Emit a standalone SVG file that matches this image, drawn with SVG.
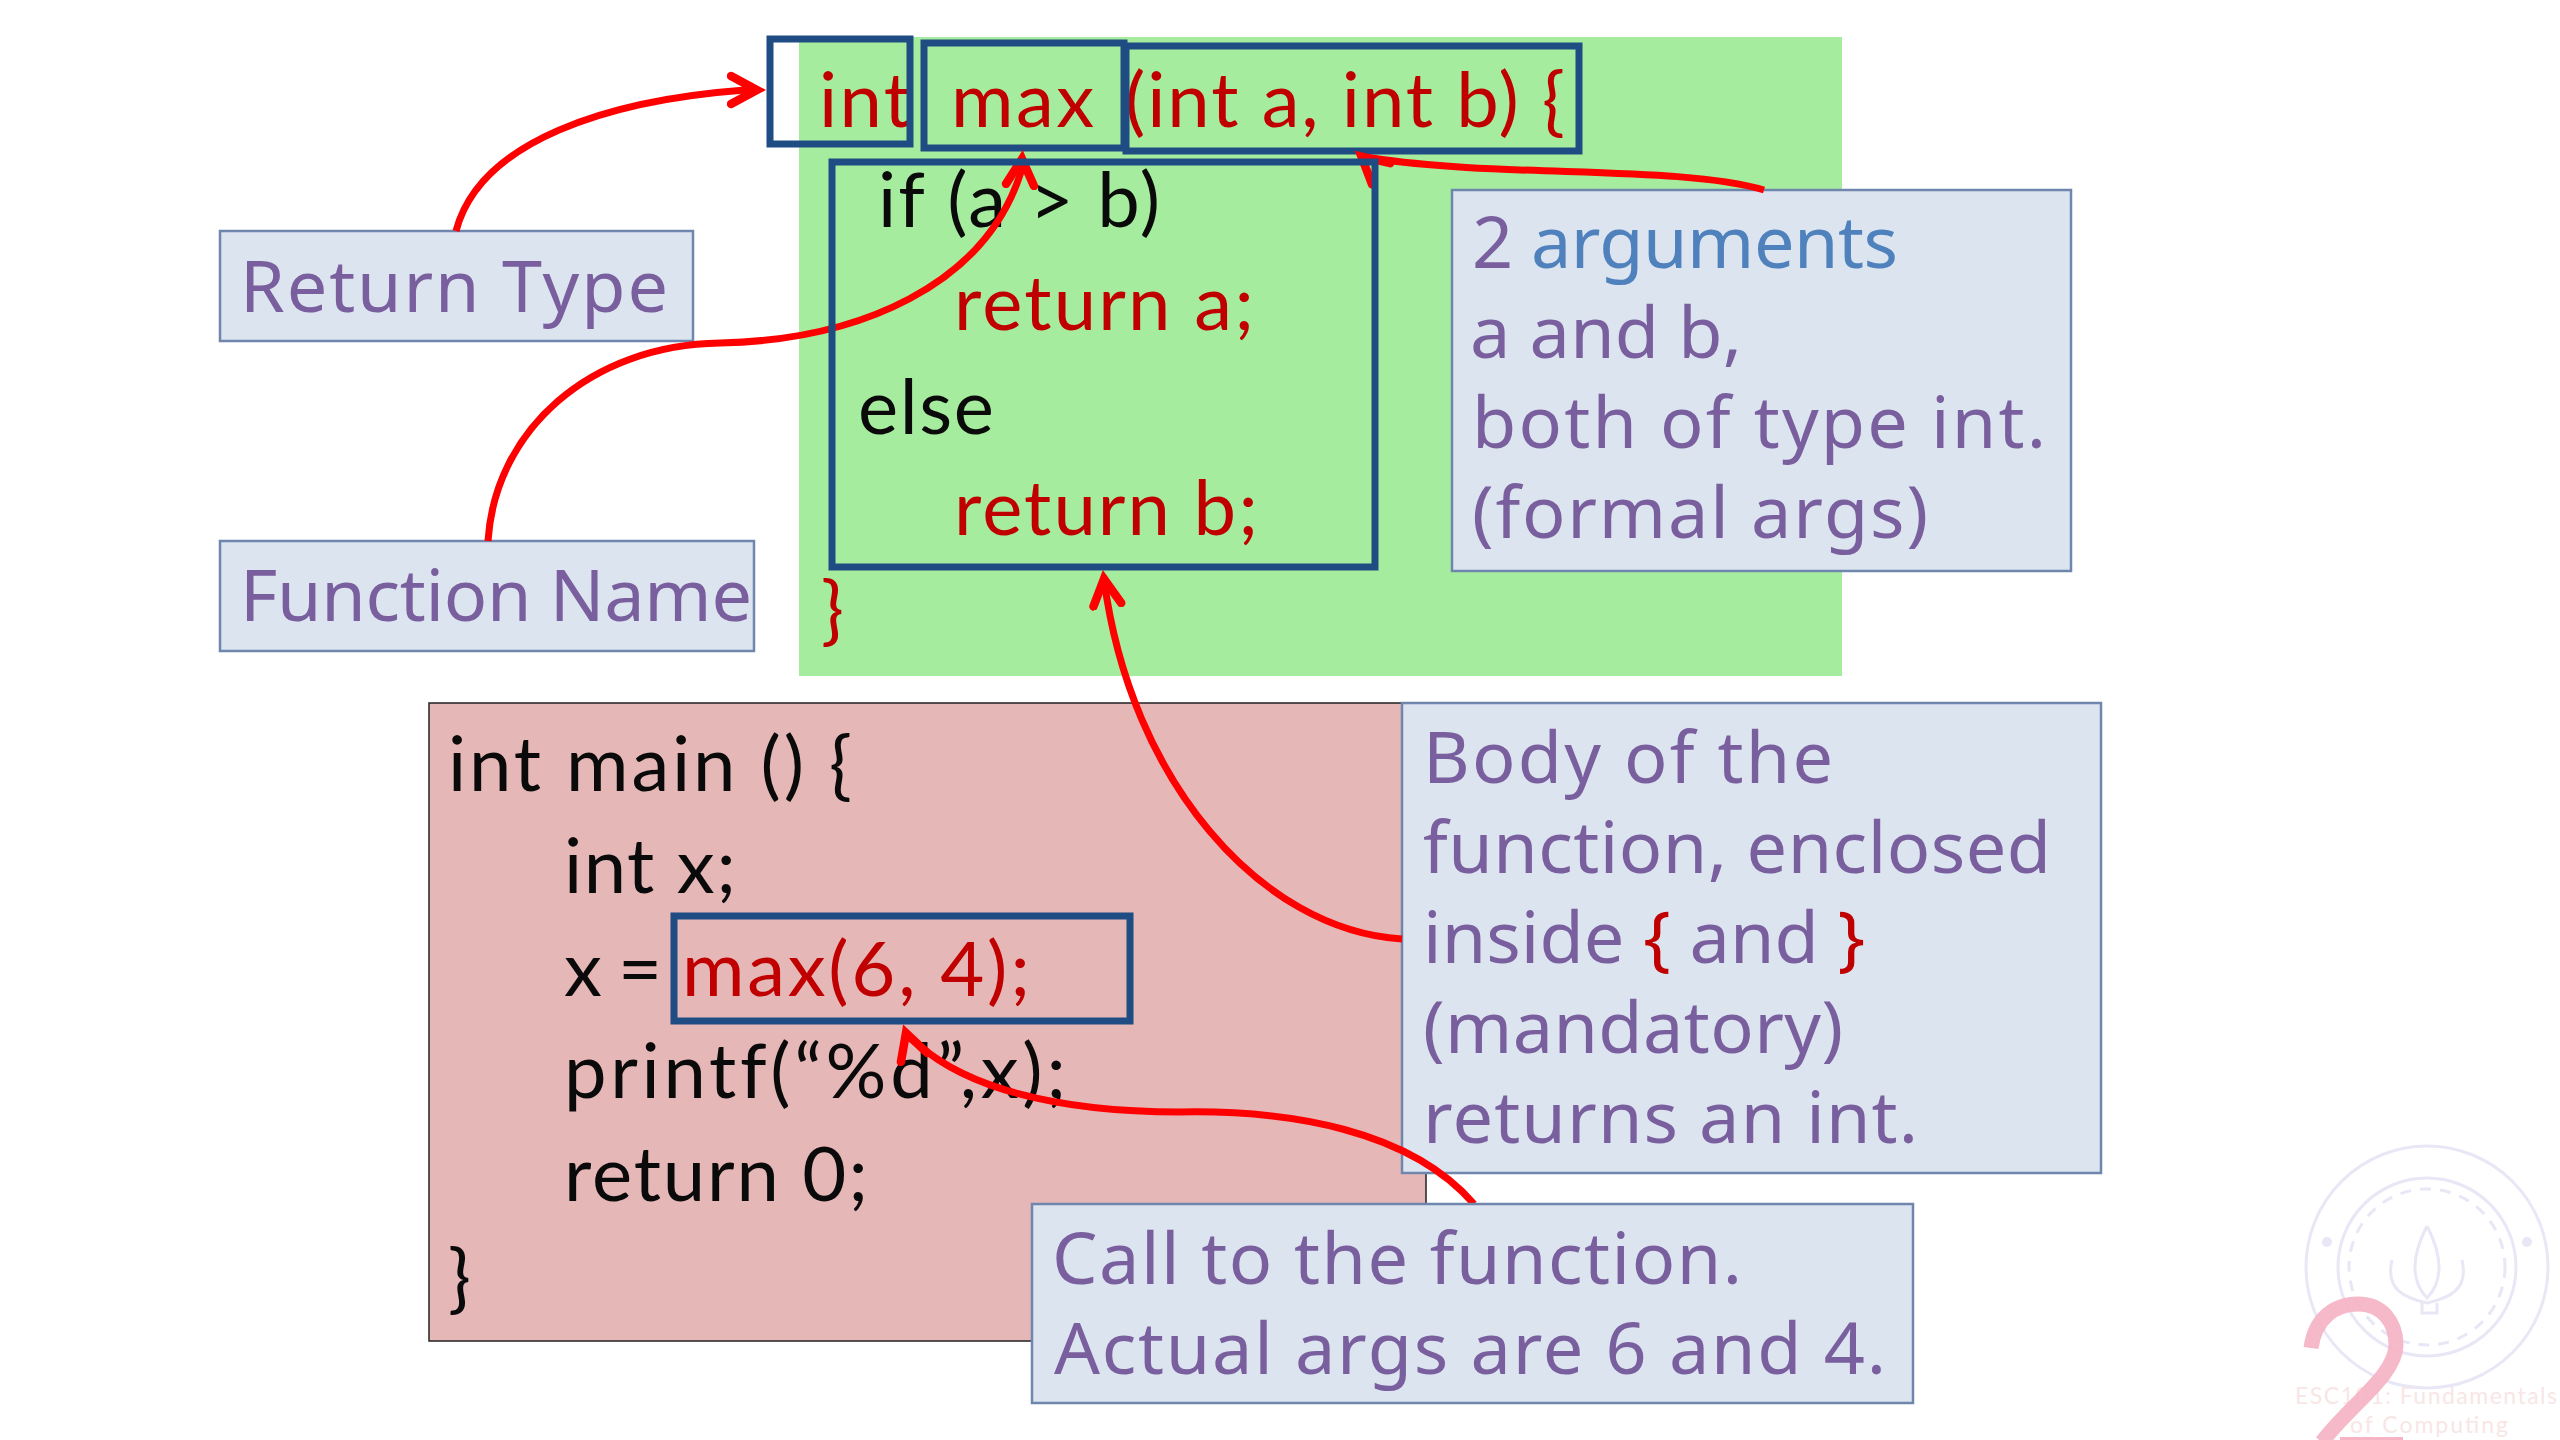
<svg xmlns="http://www.w3.org/2000/svg" width="2560" height="1440" viewBox="0 0 2560 1440">
<defs>
<marker id="ah" markerUnits="userSpaceOnUse" markerWidth="50" markerHeight="44" refX="30" refY="22" orient="auto"><path d="M4 8 L30 22 L4 36" fill="none" stroke="#ff0000" stroke-width="8.5" stroke-linecap="round" stroke-linejoin="miter" stroke-miterlimit="6"/></marker>
</defs>
<style>
.code{font-family:Lato,"Open Sans",sans-serif;font-size:76px;font-variant-ligatures:none}
.blk{fill:#0a0a0a}.red{fill:#c00000}
.lab{font-family:"Noto Sans","DejaVu Sans",sans-serif;font-size:72px;fill:#7a5f9e}
.lb{fill:#dce4ef;stroke:#6f87ad;stroke-width:2.5}
.bx{fill:none;stroke:#1f4d83;stroke-width:7}
.c{fill:none;stroke:#ff0000;stroke-width:7;marker-end:url(#ah)}
.wm{fill:none;stroke:#e9e7f5;stroke-width:3}
.wt{font-family:Lato,sans-serif;font-size:23px;fill:#f8e6e6}
</style>
<rect width="2560" height="1440" fill="#fff"/>
<g id="watermark">
<circle cx="2427" cy="1267" r="121" class="wm"/><circle cx="2427" cy="1267" r="89" class="wm"/><circle cx="2427" cy="1267" r="78" class="wm" stroke-width="5" stroke-dasharray="11 9"/>
<circle cx="2327" cy="1242" r="5" fill="#e9e7f5"/><circle cx="2527" cy="1242" r="5" fill="#e9e7f5"/>
<path d="M2427 1226 C2412 1255 2410 1280 2427 1298 C2444 1280 2442 1255 2427 1226 M2392 1260 C2385 1290 2405 1298 2427 1303 C2449 1298 2469 1290 2462 1260 M2422 1303 V1313 H2437 V1303" class="wm"/>
<text class="wt" x="2295" y="1404" textLength="262">ESC101: Fundamentals</text>
<text class="wt" x="2350" y="1433" textLength="158">of Computing</text>
<path d="M2311 1348 C2315 1318 2335 1304 2358 1304 C2382 1304 2396 1322 2396 1345 C2396 1375 2350 1405 2322 1442" fill="none" stroke="#f5b3c4" stroke-width="15" opacity=".92"/>
<rect x="2340" y="1437" width="63" height="3" fill="#f5b3c4"/>
</g>
<g id="function-def">
<rect x="799" y="37" width="1043" height="639" fill="#a6ec9e"/>
<text class="code red" x="819" y="127" textLength="92">int</text>
<text class="code red" x="951" y="127" textLength="143">max</text>
<text class="code red" x="1125" y="127" textLength="440">(int a, int b) {</text>
<text class="code blk" x="878" y="227" textLength="282">if (a &gt; b)</text>
<text class="code red" x="954" y="330" textLength="300">return a;</text>
<text class="code blk" x="858" y="434" textLength="136">else</text>
<text class="code red" x="954" y="535" textLength="304">return b;</text>
<text class="code red" x="821" y="636">}</text>
</g>
<g id="int-box"><rect x="770" y="39" width="140" height="105" class="bx"/></g>
<g id="max-box"><rect x="924" y="43" width="200" height="105" class="bx"/></g>
<g id="args-box"><rect x="1126" y="46" width="453" height="105" class="bx"/></g>
<g id="main-code">
<rect x="429" y="703" width="997" height="638" fill="#e6b7b7" stroke="#222" stroke-width="1.5"/>
<text class="code blk" x="448" y="791" textLength="404">int main () {</text>
<text class="code blk" x="564" y="893" textLength="172">int x;</text>
<text class="code blk" x="564" y="996" textLength="98">x =</text>
<text class="code red" x="682" y="996" textLength="348">max(6, 4);</text>
<text class="code blk" x="564" y="1098" textLength="502">printf(“%d”,x);</text>
<text class="code blk" x="564" y="1201" textLength="304">return 0;</text>
<text class="code blk" x="448" y="1304">}</text>
</g>
<g id="return-type"><rect x="220" y="231" width="473" height="110" class="lb"/><text class="lab" x="240" y="312" textLength="428">Return Type</text></g>
<g id="function-name"><rect x="220" y="541" width="534" height="110" class="lb"/><text class="lab" x="240" y="621" textLength="512">Function Name</text></g>
<g id="args-note"><rect x="1452" y="190" width="619" height="381" class="lb"/>
<text class="lab" x="1472" y="268" textLength="426">2 <tspan fill="#4f81bd">arguments</tspan></text>
<text class="lab" x="1470" y="358" textLength="272">a and b,</text>
<text class="lab" x="1472" y="448" textLength="574">both of type int.</text>
<text class="lab" x="1472" y="538" textLength="456">(formal args)</text></g>
<g id="body-note"><rect x="1402" y="703" width="699" height="470" class="lb"/>
<text class="lab" x="1423" y="783" textLength="410">Body of the</text>
<text class="lab" x="1423" y="873" textLength="628">function, enclosed</text>
<text class="lab" x="1423" y="963" textLength="442">inside <tspan fill="#c00000">{</tspan> and <tspan fill="#c00000">}</tspan></text>
<text class="lab" x="1423" y="1053" textLength="420">(mandatory)</text>
<text class="lab" x="1423" y="1143" textLength="495">returns an int.</text></g>
<g id="connectors">
<path class="c" d="M456 231 C480 140 610 100 745 90 L757 90"/>
<path class="c" d="M488 541 C495 430 590 345 720 343 C860 340 985 285 1021 172 L1022 159"/>
<path class="c" d="M1764 190 C1680 165 1500 178 1372 158 L1363 158 L1361.5 156.7"/>
<path class="c" d="M1402 939 C1260 930 1130 780 1104 579"/>
<path class="c" d="M1474 1204 C1410 1130 1290 1110 1180 1112 C1050 1112 965 1085 920 1046 L907 1036 L906 1033"/>
</g>
<g id="body-box"><rect x="832" y="162" width="543" height="405" class="bx"/></g>
<g id="call-box"><rect x="674" y="916" width="456" height="105" class="bx"/></g>
<g id="call-note"><rect x="1032" y="1204" width="881" height="199" class="lb"/>
<text class="lab" x="1052" y="1284" textLength="690">Call to the function.</text>
<text class="lab" x="1054" y="1374" textLength="832">Actual args are 6 and 4.</text></g>
</svg>
